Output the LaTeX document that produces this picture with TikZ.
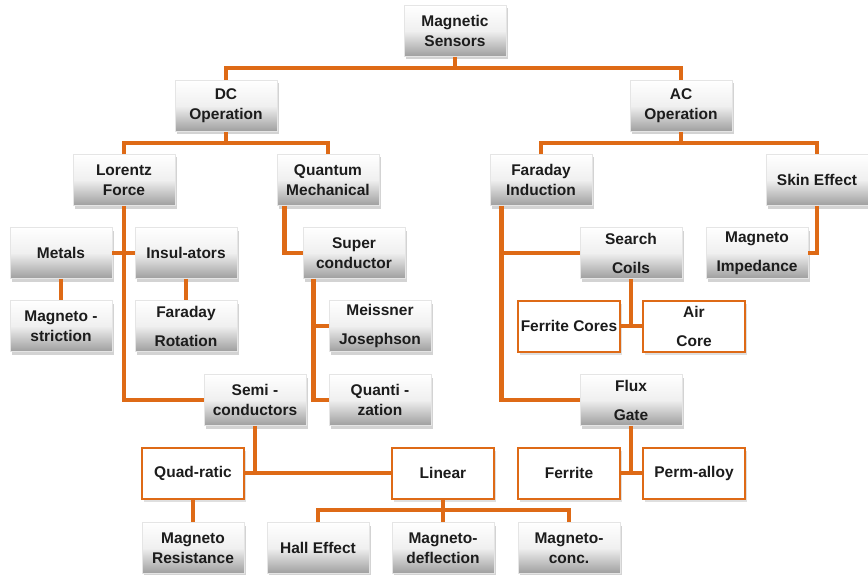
\documentclass[tikz,border=0pt]{standalone}
\usepackage{fontspec}
\setmainfont{Liberation Sans}
\usepackage{tikz}
\usetikzlibrary{shadows}
\definecolor{linkorange}{RGB}{222,106,22}
\definecolor{inkgray}{RGB}{28,28,28}

\begin{document}
\begin{tikzpicture}[x=1pt,y=-1pt,
    box/.style={rectangle,minimum width=102pt,minimum height=51pt,inner sep=2pt,align=center,
        font=\bfseries\fontsize{15.5}{20}\selectfont,text=inkgray},
    graybox/.style={box,top color=white,bottom color=black!38,middle color=black!6,draw=black!10,line width=0.6pt,
        drop shadow={shadow xshift=1.5pt,shadow yshift=-3pt,opacity=0.35}},
    whitebox/.style={box,fill=white,draw=linkorange,line width=2pt,
        drop shadow={shadow xshift=1.5pt,shadow yshift=-3pt,opacity=0.25}},
    conn/.style={draw=linkorange,line width=4.5pt}]

    \useasboundingbox (0,0) rectangle (868,575);

    % Top levels
    \node[graybox] (ms) at (455,31) {Magnetic\\Sensors};
    \node[graybox] (dc) at (226,106) {DC\\Operation};
    \node[graybox] (ac) at (681,106) {AC\\Operation};

    \node[graybox] (lor)  at (124,180) {Lorentz\\Force};
    \node[graybox] (qm)   at (328,180) {Quantum\\Mechanical};
    \node[graybox] (fi)   at (541,180) {Faraday\\Induction};
    \node[graybox] (skin) at (817,180) {Skin Effect};

    % DC side
    \node[graybox] (metals) at (61,253)  {Metals};
    \node[graybox] (ins)    at (186,253) {Insul-ators};
    \node[graybox] (sup)    at (354,253) {Super\\conductor};
    \node[graybox] (mstr)   at (61,326)  {Magneto -\\striction};
    \node[graybox] (frot)   at (186,326) {Faraday\\[9pt]Rotation};
    \node[graybox] (meis)   at (380,326) {Meissner\\[9pt]Josephson};
    \node[graybox] (semi)   at (255,400) {Semi -\\conductors};
    \node[graybox] (quant)  at (380,400) {Quanti -\\zation};

    % AC side
    \node[graybox] (search) at (631,253) {Search\\[9pt]Coils};
    \node[graybox] (mimp)   at (757,253) {Magneto\\[9pt]Impedance};
    \node[whitebox] (fcores) at (569,326) {Ferrite Cores};
    \node[whitebox] (air)    at (694,326) {Air\\[9pt]Core};
    \node[graybox] (flux)   at (631,400) {Flux\\[9pt]Gate};
    \node[whitebox] (ferr)   at (569,473) {Ferrite};
    \node[whitebox] (perm)   at (694,473) {Perm-alloy};

    % Semiconductors
    \node[whitebox] (quad) at (193,473) {Quad-ratic};
    \node[whitebox] (lin)  at (443,473) {Linear};
    \node[graybox] (mres)  at (193,548) {Magneto\\Resistance};
    \node[graybox] (hall)  at (318,548) {Hall Effect};
    \node[graybox] (mdef)  at (443,548) {Magneto-\\deflection};
    \node[graybox] (mconc) at (569,548) {Magneto-\\conc.};

    % Buses
    \coordinate (b1) at (455,68);
    \coordinate (b2) at (226,143);
    \coordinate (b3) at (681,143);
    \coordinate (b5) at (443,510);

    \draw[conn] (ms.south) -- (b1);
    \draw[conn] (dc.north) |- (b1) -| (ac.north);
    \draw[conn] (dc.south) -- (b2);
    \draw[conn] (lor.north) |- (b2) -| (qm.north);
    \draw[conn] (ac.south) -- (b3);
    \draw[conn] (fi.north) |- (b3) -| (skin.north);

    \draw[conn] (lor.south) |- (semi.west);
    \draw[conn] (metals.east) -- (ins.west);
    \draw[conn] ([xshift=8pt]qm.south west) |- (sup.west);
    \draw[conn] ([xshift=11pt]sup.south west) |- (meis.west);
    \draw[conn] ([xshift=11pt]sup.south west) |- (quant.west);

    \draw[conn] ([xshift=12pt]fi.south west) |- (search.west);
    \draw[conn] ([xshift=12pt]fi.south west) |- (flux.west);
    \draw[conn] (skin.south) |- (mimp.east);

    % Short drops and pairs
    \foreach \a/\b in {metals/mstr, ins/frot, quad/mres}
        \draw[conn] (\a.south) -- (\b.north);
    \foreach \a/\l/\r in {search/fcores/air, flux/ferr/perm, semi/quad/lin}
        {
        \draw[conn] (\a.south) -- (\a.south |- \l.east);
        \draw[conn] (\l.east) -- (\r.west);
        }

    \draw[conn] (lin.south) -- (b5);
    \draw[conn] (hall.north) |- (b5) -| (mconc.north);
    \draw[conn] (b5) -- (mdef.north);

\end{tikzpicture}
\end{document}
